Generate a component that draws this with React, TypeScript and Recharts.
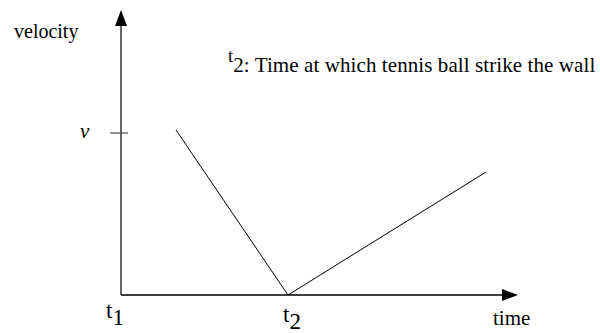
import { LineChart, Line, XAxis, YAxis } from 'recharts';

// time / velocity of the ball (arbitrary units)
const times = [55, 167, 365];
const velocity = [165, 0, 123];

const timeTicks = [0, 167];
const timeTickLabels = ['1', '2'];
const velocityTicks = [162];
const velocityTickLabels = ['v'];

const chartData = times.map((t, i) => ({ t, v: velocity[i] }));

const serif = { fontFamily: "'Liberation Serif', 'Times New Roman', serif" };

const TimeTick = (props: any) => {
  const { x, y, index } = props;
  const dx = index === 0 ? -15 : -5;
  const base = index === 0 ? 23 : 27;
  return (
    <text x={x + dx} y={y + base} style={serif} fontSize={23} fill="#000">
      t
      <tspan dy={7}>{timeTickLabels[index]}</tspan>
    </text>
  );
};

const VelocityTick = (props: any) => {
  const { x, y, index } = props;
  return (
    <g>
      <line x1={x - 11} x2={x + 7} y1={y} y2={y} stroke="#555" strokeWidth={1.3} />
      <text x={x - 41} y={y + 5} style={serif} fontStyle="italic" fontSize={21} fill="#000">
        {velocityTickLabels[index]}
      </text>
    </g>
  );
};

export default function App() {
  return (
    <div style={{ position: 'absolute', left: 0, top: 0, width: 600, height: 333, background: '#fff' }}>
      <svg width={0} height={0} style={{ position: 'absolute' }}>
        <defs>
          <marker
            id="arrowHead"
            markerWidth={16}
            markerHeight={12}
            refX={0}
            refY={6}
            viewBox="0 0 16 12"
            orient="auto-start-reverse"
            markerUnits="userSpaceOnUse"
          >
            <path d="M0,0 L16,6 L0,12 z" fill="#000" />
          </marker>
        </defs>
      </svg>
      <LineChart
        width={600}
        height={333}
        data={chartData}
        margin={{ top: 26, right: 98, bottom: 37, left: 120 }}
      >
        <XAxis
          type="number"
          dataKey="t"
          domain={[0, 381]}
          ticks={timeTicks}
          height={1}
          tickSize={0}
          tickMargin={0}
          tickLine={false}
          tick={<TimeTick />}
          axisLine={{ stroke: '#000', strokeWidth: 1.5, markerEnd: 'url(#arrowHead)' }}
          label={{
            value: 'time',
            content: ({ viewBox }: any) => (
              <text x={viewBox.x + viewBox.width - 9} y={viewBox.y + 30} style={serif} fontSize={21} fill="#000">
                time
              </text>
            ),
          }}
        />
        <YAxis
          type="number"
          dataKey="v"
          domain={[0, 269]}
          ticks={velocityTicks}
          width={1}
          tickSize={0}
          tickMargin={0}
          tickLine={false}
          tick={<VelocityTick />}
          axisLine={{ stroke: '#333', strokeWidth: 1.5, markerStart: 'url(#arrowHead)' }}
          label={{
            value: 'velocity',
            content: ({ viewBox }: any) => (
              <text x={viewBox.x - 106} y={viewBox.y + 12} style={serif} fontSize={20} fill="#000">
                velocity
              </text>
            ),
          }}
        />
        <Line type="linear" dataKey="v" stroke="#000" strokeWidth={1} dot={false} isAnimationActive={false} />
        <text x={228} y={72} style={serif} fontSize={21} fill="#000">
          <tspan fontSize={19} dy={-10}>t</tspan>
          <tspan dy={10} textLength={362} lengthAdjust="spacing">
            2: Time at which tennis ball strike the wall
          </tspan>
        </text>
      </LineChart>
    </div>
  );
}
